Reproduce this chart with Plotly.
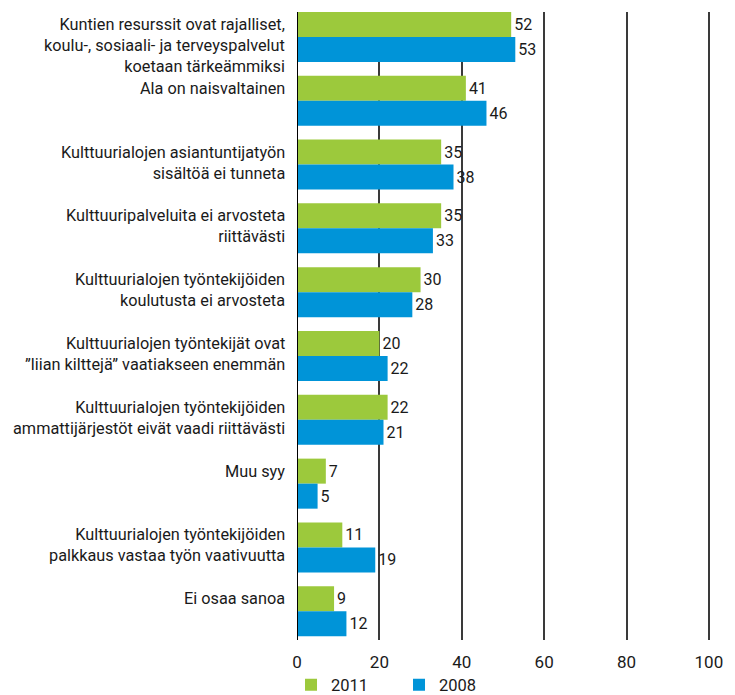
import plotly.graph_objects as go

# ===== data =====
labels = [
    "Kuntien resurssit ovat rajalliset,<br>koulu-, sosiaali- ja terveyspalvelut<br>koetaan tärkeämmiksi",
    "Ala on naisvaltainen",
    "Kulttuurialojen asiantuntijatyön<br>sisältöä ei tunneta",
    "Kulttuuripalveluita ei arvosteta<br>riittävästi",
    "Kulttuurialojen työntekijöiden<br>koulutusta ei arvosteta",
    "Kulttuurialojen työntekijät ovat<br>”liian kilttejä” vaatiakseen enemmän",
    "Kulttuurialojen työntekijöiden<br>ammattijärjestöt eivät vaadi riittävästi",
    "Muu syy",
    "Kulttuurialojen työntekijöiden<br>palkkaus vastaa työn vaativuutta",
    "Ei osaa sanoa",
]
v2011 = [52, 41, 35, 35, 30, 20, 22, 7, 11, 9]
v2008 = [53, 46, 38, 33, 28, 22, 21, 5, 19, 12]
xticks = [0, 20, 40, 60, 80, 100]

GREEN = "#9cc93c"
BLUE = "#0094d8"
FONT = "Roboto"
INK = "#1a1a1a"

idx = list(range(len(labels)))

fig = go.Figure()
for name, vals, col in [("2011", v2011, GREEN), ("2008", v2008, BLUE)]:
    fig.add_trace(go.Bar(
        y=idx, x=vals, name=name, orientation="h",
        marker=dict(color=col, line=dict(width=0)),
        text=vals, textposition="outside", constraintext="none",
        textfont=dict(family=FONT, size=16, color=INK),
        cliponaxis=False,
    ))

# category labels, first line level with the green bar
for i, lab in enumerate(labels):
    fig.add_annotation(
        x=0, xref="x", y=i, yref="y",
        text=lab, showarrow=False,
        xanchor="right", yanchor="top", align="right",
        xshift=-10, yshift=24,
        font=dict(family=FONT, size=16.3, color=INK),
    )

# the page body adds an 8px margin, so the figure is 8px smaller than the window
fig.update_layout(
    width=727, height=687,
    margin=dict(l=289, r=22, t=4, b=55, autoexpand=False),
    paper_bgcolor="white", plot_bgcolor="white",
    barmode="group", bargap=0.216, bargroupgap=0,
    font=dict(family=FONT, size=16, color=INK),
    xaxis=dict(
        range=[0, 101], tickvals=xticks, showgrid=True,
        gridcolor="#3a3a3a", gridwidth=1.5, zeroline=False,
        showline=False, ticks="", ticklabelstandoff=10,
        tickfont=dict(family=FONT, size=17, color=INK),
    ),
    yaxis=dict(
        range=[9.45, -0.39], showticklabels=False, showgrid=False,
        zeroline=False, showline=False, ticks="",
    ),
    shapes=[dict(type="line", xref="x", yref="paper", x0=0, x1=0, y0=0, y1=1,
                 line=dict(color="black", width=2))],
    legend=dict(
        orientation="h", x=-0.0144, xanchor="left", y=-0.044, yanchor="top",
        font=dict(family=FONT, size=16.5, color=INK),
        entrywidth=63, traceorder="normal",
    ),
    showlegend=True,
)

fig.write_html("out.html")
